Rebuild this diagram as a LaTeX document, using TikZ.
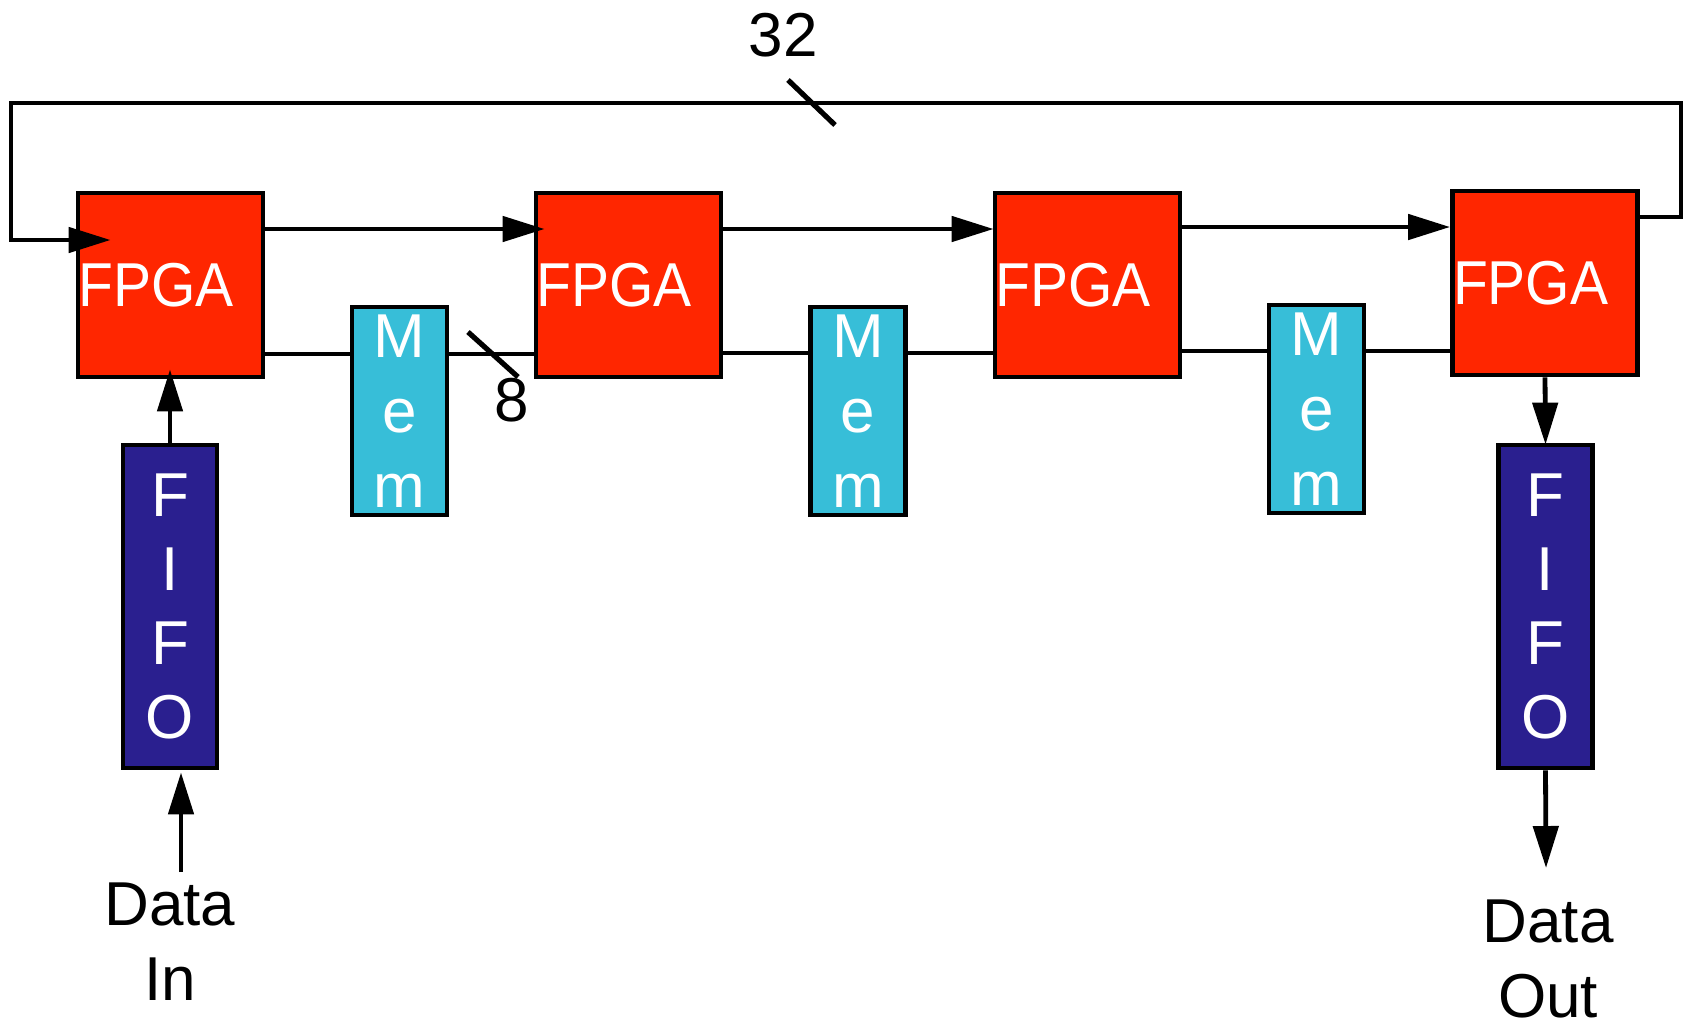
\documentclass[tikz,border=0pt]{standalone}
\usepackage{fontspec}
\usepackage{graphicx}
\setmainfont{Liberation Sans}
\usetikzlibrary{arrows.meta,calc}
\definecolor{fpgared}{RGB}{255,38,0}
\definecolor{memcyan}{RGB}{55,190,216}
\definecolor{fifoblue}{RGB}{42,31,143}
\begin{document}
\begin{tikzpicture}[x=0.5pt,y=-0.5pt,
  lw/.style={line width=2.4pt},
  fpgabox/.style={lw,draw=black,fill=fpgared,text=white,minimum width=92.5pt,minimum height=92pt,
    inner xsep=0pt,inner ysep=0pt,text width=92pt,align=left,font=\fontsize{31}{37.5}\selectfont},
  membox/.style={lw,draw=black,fill=memcyan,text=white,minimum width=47.5pt,minimum height=104pt,
    inner sep=0pt,align=center,font=\fontsize{31}{37.5}\selectfont},
  fifobox/.style={lw,draw=black,fill=fifoblue,text=white,minimum width=47pt,minimum height=161.5pt,
    inner sep=0pt,align=center,font=\fontsize{31}{37}\selectfont},
  wire/.style={lw,draw=black},
  arr/.style={lw,draw=black,-{Triangle[length=21pt,width=12.5pt]}},
  slashmark/.style={line width=2.6pt,draw=black},
  lbl/.style={inner sep=0pt,align=center,font=\fontsize{31}{37.5}\selectfont}
]
\useasboundingbox (0,0) rectangle (1684,1030);

% boxes
\node[fpgabox] (f1) at (170.5,285) {\scalebox{0.92}[1]{FPGA}};
\node[fpgabox] (f2) at (628.5,285) {\scalebox{0.92}[1]{FPGA}};
\node[fpgabox] (f3) at (1087.5,285) {\scalebox{0.92}[1]{FPGA}};
\node[fpgabox] (f4) at (1545,283) {\scalebox{0.92}[1]{FPGA}};
\node[membox] (m1) at (399.5,411) {M\\e\\m};
\node[membox] (m2) at (858,411) {M\\e\\m};
\node[membox] (m3) at (1316.5,409) {M\\e\\m};
\node[fifobox] (q1) at (170,606.5) {F\\I\\F\\O};
\node[fifobox] (q2) at (1545.5,606.5) {F\\I\\F\\O};

% labels
\node[lbl] (l32) at (783,35) {32};
\node[lbl] (l8) at (512,400) {8};
\node[lbl] (din) at (170,942) {Data\\In};
\node[lbl] (dout) at (1548,959) {Data\\Out};

% top (32-bit) forward links
\path ([yshift=28pt]f1.east) coordinate (t1);
\path ([yshift=28pt]f2.east) coordinate (t2);
\path ([yshift=29pt]f3.east) coordinate (t3);
\draw[arr] (t1) -- ($(t1 -| f2.west)+(11,0)$);
\draw[arr] (t2) -- ($(t2 -| f3.west)+(1,0)$);
\draw[arr] (t3) -- (t3 -| f4.west);

% bottom (memory) links
\path ([yshift=-34.5pt]f1.east) coordinate (b1);
\path ([yshift=-34pt]f2.east) coordinate (b2);
\path ([yshift=-33pt]f3.east) coordinate (b3);
\draw[wire] (b1) -- (b1 -| m1.west);
\draw[wire] (b1 -| m1.east) -- (b1 -| f2.west);
\draw[wire] (b2) -- (b2 -| m2.west);
\draw[wire] (b2 -| m2.east) -- (b2 -| f3.west);
\draw[wire] (b3) -- (b3 -| m3.west);
\draw[wire] (b3 -| m3.east) -- (b3 -| f4.west);

% feedback loop
\path ([yshift=33pt]f4.east) coordinate (lp);
\coordinate (rc) at (1681,103);
\coordinate (lc) at (11,240);
\draw[arr,line join=miter] (lp) -| (rc) -- (rc -| lc) -- (lc) -- ($(lc -| f1.west)+(35,0)$);

% FIFO links
\draw[arr] (q1.north) -- ($(q1.north |- f1.south)+(0,-10)$);
\coordinate (dinS) at (181,872);
\draw[arr] (dinS) -- ($(dinS |- q1.south)+(0,2)$);
\draw[arr] (f4.south) -- ($(q2.north)+(0,2)$);
\coordinate (doutE) at (1546,868);
\draw[arr] (q2.south) -- (doutE);

% bus width marks
\draw[slashmark] (788,80) -- (835,125);
\draw[slashmark] (468,332) -- (518,377);
\end{tikzpicture}
\end{document}
